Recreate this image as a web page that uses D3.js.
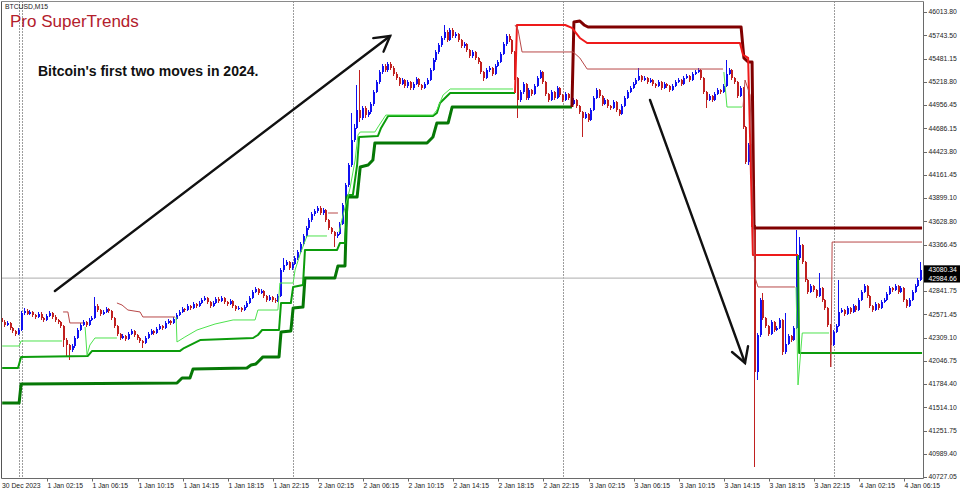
<!DOCTYPE html>
<html><head><meta charset="utf-8">
<script src="https://cdn.jsdelivr.net/npm/d3@7"></script>
<style>html,body{margin:0;padding:0;background:#fff;}svg{display:block;}</style>
</head><body>
<svg id="chart" width="960" height="493"></svg>
<script>
// ---------- DATA (BTCUSD M15) ----------
const open = [42531,42486,42452,42475,42418,42384,42350,42395,42588,42611,
42577,42600,42565,42543,42577,42531,42509,42554,42588,42543,
42509,42486,42440,42281,42224,42168,42213,42304,42395,42452,
42486,42452,42509,42531,42668,42622,42577,42600,42634,42611,
42531,42440,42350,42304,42327,42293,42350,42384,42338,42304,
42270,42247,42304,42350,42384,42361,42406,42440,42418,42475,
42497,42475,42520,42565,42600,42634,42622,42668,42645,42691,
42668,42702,42736,42759,42713,42668,42702,42748,42725,42759,
42713,42691,42725,42668,42634,42645,42622,42656,42702,42759,
42827,42861,42816,42838,42782,42736,42770,42736,42725,42782,
43078,43134,43168,43100,43145,43214,43282,43373,43464,43555,
43646,43714,43748,43782,43725,43759,43646,43555,43509,43464,
43486,43600,43816,44043,44271,44555,44692,44896,44805,44919,
44839,44873,44964,45101,45214,45328,45397,45351,45419,45374,
45306,45260,45192,45237,45169,45214,45146,45192,45249,45181,
45146,45192,45237,45351,45465,45556,45635,45715,45783,45692,
45806,45738,45760,45692,45624,45647,45578,45510,45556,45488,
45442,45328,45260,45351,45374,45306,45397,45442,45533,45647,
45738,45692,45556,45260,45010,45101,45192,45033,45124,45078,
45169,45260,45328,45214,45078,45010,45101,45033,45146,45067,
45010,45078,45033,44964,45010,44942,44873,44805,44851,44783,
44896,45033,45124,45055,44964,45010,44942,44919,44987,44896,
44851,44942,45033,45101,45146,45192,45237,45283,45237,45260,
45214,45237,45192,45169,45214,45146,45192,45169,45124,45169,
45214,45237,45192,45260,45283,45237,45306,45328,45351,45260,
45101,45010,45055,45010,45078,45124,45101,45169,45306,45351,
45260,45214,45055,45146,44703,44305,44498,43589,41917,42338,
42736,42531,42440,42350,42486,42395,42418,42509,42145,42236,
42327,42281,42418,43214,43361,43168,42964,42827,42895,42850,
42782,42873,42736,42645,42452,42224,42372,42440,42600,42622,
42577,42645,42600,42668,42622,42736,42827,42895,42782,42668,
42622,42691,42645,42713,42736,42804,42873,42850,42895,42827,
42873,42736,42668,42736,42827,42895,42964];
const high = [42560,42508,42497,42490,42430,42400,42420,42610,42640,42630,
42625,42615,42580,42600,42595,42545,42577,42610,42600,42560,
42520,42500,42452,42300,42236,42236,42327,42418,42475,42509,
42497,42531,42554,42770,42691,42634,42622,42656,42645,42622,
42543,42452,42361,42350,42338,42372,42406,42395,42350,42315,
42281,42327,42372,42406,42395,42429,42463,42452,42497,42520,
42509,42543,42588,42622,42656,42645,42691,42680,42713,42702,
42725,42759,42782,42770,42725,42725,42770,42770,42782,42770,
42725,42748,42736,42680,42668,42656,42680,42725,42782,42850,
42884,42873,42861,42850,42793,42793,42782,42759,42804,43100,
43214,43191,43180,43168,43237,43305,43396,43486,43578,43669,
43737,43771,43805,43805,43782,43771,43657,43566,43520,43509,
43623,43839,44066,44294,44862,44737,45180,45351,44942,44942,
44896,44987,45124,45237,45351,45420,45420,45442,45442,45397,
45328,45271,45260,45249,45237,45226,45214,45271,45260,45192,
45214,45260,45374,45488,45578,45658,45738,45863,45806,45829,
45829,45783,45772,45703,45669,45658,45590,45578,45567,45499,
45453,45340,45374,45397,45385,45420,45465,45556,45669,45760,
45760,45703,45567,45271,45124,45214,45203,45146,45135,45192,
45283,45351,45340,45226,45090,45124,45112,45169,45158,45078,
45101,45090,45044,45033,45021,44953,44885,44873,44862,44919,
45055,45146,45135,45067,45033,45021,44953,45010,44999,44908,
44964,45055,45124,45169,45214,45260,45374,45294,45283,45271,
45260,45249,45203,45237,45226,45214,45203,45180,45192,45237,
45260,45249,45283,45306,45294,45328,45351,45374,45362,45271,
45112,45078,45067,45101,45146,45135,45192,45465,45374,45362,
45271,45226,45169,45158,44714,44521,44510,43600,42361,42759,
42816,42543,42452,42509,42497,42440,42531,42520,42588,42350,
42338,42440,43532,43453,43373,43180,42975,42918,42907,42861,
43043,42884,42748,42656,42463,42395,42463,42964,42645,42634,
42668,42656,42691,42680,42759,42850,42918,42907,42793,42680,
42713,42702,42736,42759,42827,42895,42884,42918,42907,42895,
42884,42748,42759,42850,42918,42987,43168];
const low = [42463,42430,42440,42395,42361,42330,42338,42384,42570,42560,
42565,42543,42520,42531,42509,42486,42497,42543,42520,42486,
42463,42418,42202,42089,42054,42145,42190,42293,42384,42440,
42429,42440,42497,42520,42600,42554,42565,42588,42588,42509,
42418,42327,42281,42293,42270,42281,42338,42315,42281,42247,
42190,42236,42293,42338,42338,42350,42395,42395,42406,42463,
42452,42463,42509,42554,42588,42600,42611,42622,42634,42645,
42656,42691,42725,42691,42645,42656,42691,42702,42713,42691,
42668,42680,42645,42611,42622,42600,42611,42645,42691,42748,
42816,42793,42804,42759,42713,42725,42713,42702,42713,42770,
43055,43123,43078,43078,43134,43191,43260,43350,43441,43532,
43623,43691,43725,43702,43702,43623,43532,43486,43339,43441,
43475,43589,43805,44020,44248,44532,44680,44760,44783,44805,
44816,44851,44942,45090,45192,45306,45328,45328,45351,45283,
45237,45169,45180,45146,45146,45124,45124,45180,45158,45124,
45135,45180,45226,45340,45442,45533,45612,45692,45669,45680,
45715,45715,45669,45601,45601,45556,45488,45488,45465,45419,
45306,45226,45249,45328,45283,45294,45385,45431,45522,45624,
45669,45533,45237,44805,44987,45078,45010,45010,45055,45067,
45158,45249,45192,45055,44987,44999,45010,45021,45044,44987,
44999,45010,44942,44953,44919,44851,44589,44794,44760,44771,
44885,45021,45033,44942,44953,44919,44896,44908,44873,44828,
44839,44930,45021,45090,45135,45180,45226,45214,45226,45192,
45203,45169,45146,45158,45124,45135,45146,45101,45112,45158,
45203,45169,45180,45249,45214,45226,45294,45317,45237,45078,
44919,44999,44987,44999,45067,45078,45090,45158,45294,45237,
45192,45033,45044,44680,44282,44271,43566,40837,41827,42315,
42509,42418,42327,42338,42372,42384,42406,42111,42122,42224,
42259,42270,42406,43191,43145,42941,42804,42816,42827,42759,
42770,42713,42622,42429,41974,42213,42361,42429,42588,42554,
42565,42577,42588,42600,42611,42725,42816,42759,42645,42600,
42611,42622,42634,42702,42725,42793,42827,42838,42804,42816,
42713,42645,42656,42725,42816,42884,42953];
const close = [42486,42452,42475,42418,42384,42350,42395,42588,42611,42577,
42600,42565,42543,42577,42531,42509,42554,42588,42543,42509,
42486,42440,42281,42224,42168,42213,42304,42395,42452,42486,
42452,42509,42531,42668,42622,42577,42600,42634,42611,42531,
42440,42350,42304,42327,42293,42350,42384,42338,42304,42270,
42247,42304,42350,42384,42361,42406,42440,42418,42475,42497,
42475,42520,42565,42600,42634,42622,42668,42645,42691,42668,
42702,42736,42759,42713,42668,42702,42748,42725,42759,42713,
42691,42725,42668,42634,42645,42622,42656,42702,42759,42827,
42861,42816,42838,42782,42736,42770,42736,42725,42782,43078,
43134,43168,43100,43145,43214,43282,43373,43464,43555,43646,
43714,43748,43782,43725,43759,43646,43555,43509,43464,43486,
43600,43816,44043,44271,44555,44692,44896,44805,44919,44839,
44873,44964,45101,45214,45328,45397,45351,45419,45374,45306,
45260,45192,45237,45169,45214,45146,45192,45249,45181,45146,
45192,45237,45351,45465,45556,45635,45715,45783,45692,45806,
45738,45760,45692,45624,45647,45578,45510,45556,45488,45442,
45328,45260,45351,45374,45306,45397,45442,45533,45647,45738,
45692,45556,45260,45010,45101,45192,45033,45124,45078,45169,
45260,45328,45214,45078,45010,45101,45033,45146,45067,45010,
45078,45033,44964,45010,44942,44873,44805,44851,44783,44896,
45033,45124,45055,44964,45010,44942,44919,44987,44896,44851,
44942,45033,45101,45146,45192,45237,45283,45237,45260,45214,
45237,45192,45169,45214,45146,45192,45169,45124,45169,45214,
45237,45192,45260,45283,45237,45306,45328,45351,45260,45101,
45010,45055,45010,45078,45124,45101,45169,45306,45351,45260,
45214,45055,45146,44703,44305,44498,43589,41917,42338,42736,
42531,42440,42350,42486,42395,42418,42509,42145,42236,42327,
42281,42418,43214,43361,43168,42964,42827,42895,42850,42782,
42873,42736,42645,42452,42224,42372,42440,42600,42622,42577,
42645,42600,42668,42622,42736,42827,42895,42782,42668,42622,
42691,42645,42713,42736,42804,42873,42850,42895,42827,42873,
42736,42668,42736,42827,42895,42964,43080];

// SuperTrend lines: [bar index, price]
const stSlowUp = [[0,41565],[6,41565],[6.7,41781],[62,41792],[63.8,41849],[66.6,41849],[67.7,41952],[86.8,41963],[88.3,41997],[90,42009],[90.7,42031],[92.5,42089],[98.2,42089],[98.9,42372],[102.4,42384],[103.2,42645],[106.7,42656],[107.4,42986],[118,42986],[119.1,43123],[121.6,43123],[122.3,43907],[125.9,43907],[127,44248],[129.8,44271],[131.5,44328],[132.2,44521],[150.7,44521],[152.8,44589],[154.2,44749],[158.2,44749],[159.6,44930],[202.1,44930]];
const stSlowDown = [[202.1,44930],[202.8,45897],[204.9,45908],[206.4,45863],[207.8,45840],[262.1,45840],[263.1,45488],[264.6,45442],[266,45442],[266.7,43555],[326.3,43555]];
const stMidUp1 = [[0,41963],[5.6,41963],[6.7,42089],[30.4,42100],[31.9,42157],[63.1,42157],[64.5,42190],[70.2,42281],[89,42304],[90.7,42338],[92.2,42395],[98.2,42395],[98.9,42702],[102.4,42702],[103.2,42884],[106.7,42907],[107.4,43305],[118.8,43305],[119.8,43384],[121.6,43384],[122.7,43930],[124.4,43930],[125.9,44271],[126.6,44589],[133.3,44601],[134.4,44692],[136.9,44828],[152.8,44828],[154.2,44862],[155.3,44976],[158.9,45090],[181.9,45090]];
const stMidDown = [[181.9,45090],[182.6,45863],[199.7,45863],[202.1,45829],[204.9,45715],[207.5,45658],[261.7,45658],[262.8,45522],[264.6,45488],[266.3,43248],[282.3,43248]];
const stMidUp2 = [[282.3,43248],[282.7,42134],[326.3,42134]];
const stFastUp = [
  [[0,42213],[6,42213],[6.7,42270],[21.2,42270]],
  [[29.4,42429],[30.1,42111],[31.1,42224],[32.9,42304],[40.7,42304]],
  [[61.7,42543],[62,42259],[64.8,42315],[69.1,42395],[75.5,42463],[81.9,42509],[89.7,42509],[90.7,42622],[97.8,42622],[98.5,42929],[103.2,42929],[103.9,43078],[105.6,43248],[108.1,43464],[115.2,43464]],
  [[119.5,43509],[120.9,43702],[122.3,43873],[123.4,44009],[125.2,44328],[126.2,44612],[127,44646],[132.2,44646],[133.3,44703],[136.1,44839],[152.8,44839],[154.2,44896],[156.4,45067],[158.9,45135],[181.2,45135]],
  [[256,45328],[257.1,44930],[262.4,44930]],
  [[281.6,42884],[282.3,41770],[283.8,42361],[293.3,42361]]
];
const stFastDown = [
  [[21.6,42600],[23.3,42600],[24,42475],[28.7,42475]],
  [[40.7,42702],[42.5,42679],[44.6,42622],[48.9,42600],[49.9,42543],[61.3,42543]],
  [[115.6,43725],[119.1,43725]],
  [[181.9,45863],[183,45806],[184.4,45556],[202.5,45556],[204.9,45488],[207.5,45362],[255.7,45362]],
  [[262.8,44930],[263.5,45237],[265.3,45067],[267,42998],[268.1,42884],[281.2,42884]],
  [[294,41974],[294.4,43395],[326.3,43395]]
];

const xTickBars = [0,16,32,48,64,80,96,112,128,144,160,176,192,208,224,240,256,272,288,304,320];
const xTickLabels = ["30 Dec 2023","1 Jan 02:15","1 Jan 06:15","1 Jan 10:15","1 Jan 14:15","1 Jan 18:15","1 Jan 22:15","2 Jan 02:15","2 Jan 06:15","2 Jan 10:15","2 Jan 14:15","2 Jan 18:15","2 Jan 22:15","3 Jan 02:15","3 Jan 06:15","3 Jan 10:15","3 Jan 14:15","3 Jan 18:15","3 Jan 22:15","4 Jan 02:15","4 Jan 06:15"];
const yTickValues = [46013.80,45743.50,45481.15,45218.80,44956.45,44686.15,44423.80,44161.45,43899.10,43628.80,43366.45,42841.75,42571.45,42309.10,42046.75,41784.40,41514.10,41251.75,40989.40,40727.05];
const separatorBars = [6,7,103,199,295];
const bidPrice = 42984.66;
const askPrice = 43080.34;
const arrows = [ {from:[18.7,42838], to:[137.6,45738]}, {from:[229.8,45010], to:[263.5,42020]} ];

// ---------- STYLES ----------
const C = {
  bull:"#1010f0", bear:"#c02020",
  fastUp:"#4ee24e", midUp:"#0c9c0c", slowUp:"#067806",
  fastDown:"#b84848", midDown:"#ee1a1a", slowDown:"#800000",
  frame:"#6a6a6a", text:"#222"
};
const axisFont = "Liberation Sans, Arial, sans-serif";

// ---------- SCALES ----------
const svg = d3.select("#chart");
const L=1.5, R=923.5, T=1.5, B=478.5;
const x = d3.scaleLinear().domain([0,320]).range([2.2,904.3]);
const y = d3.scaleLinear().domain([40727.05,46013.80]).range([476.7,11.7]);

svg.append("rect").attr("width",960).attr("height",493).attr("fill","#fff");
svg.append("defs").append("clipPath").attr("id","clip")
  .append("rect").attr("x",L).attr("y",T).attr("width",R-L).attr("height",B-T);
const g = svg.append("g").attr("clip-path","url(#clip)");

// separators
g.selectAll("line.sep").data(separatorBars).join("line")
  .attr("x1",d=>Math.round(x(d))+0.5).attr("x2",d=>Math.round(x(d))+0.5)
  .attr("y1",T).attr("y2",B).attr("stroke","#3a3a3a").attr("stroke-width",1)
  .attr("stroke-dasharray","1,2");

// bid line
g.append("line").attr("x1",L).attr("x2",R)
  .attr("y1",y(bidPrice)).attr("y2",y(bidPrice))
  .attr("stroke","#bdbdbd").attr("stroke-width",1.4);

// candles
const idx = d3.range(close.length);
const cg = g.append("g").attr("shape-rendering","crispEdges");
cg.selectAll("rect.wick").data(idx).join("rect")
  .attr("x",i=>Math.round(x(i))-1).attr("width",1)
  .attr("y",i=>y(high[i])).attr("height",i=>Math.max(1,y(low[i])-y(high[i])))
  .attr("fill",i=>close[i]>=open[i]?C.bull:C.bear);
cg.selectAll("rect.body").data(idx).join("rect")
  .attr("x",i=>Math.round(x(i))-1).attr("width",2)
  .attr("y",i=>y(Math.max(open[i],close[i])))
  .attr("height",i=>Math.max(1,Math.abs(y(open[i])-y(close[i]))))
  .attr("fill",i=>close[i]>=open[i]?C.bull:C.bear);

// supertrend lines
const line = d3.line().x(d=>x(d[0])).y(d=>y(d[1]));
function drawLine(pts,color,w){
  g.append("path").attr("d",line(pts)).attr("fill","none")
   .attr("stroke",color).attr("stroke-width",w).attr("stroke-linejoin","round");
}
drawLine(stSlowUp,C.slowUp,3);
drawLine(stSlowDown,C.slowDown,3);
drawLine(stMidUp1,C.midUp,2);
drawLine(stMidUp2,C.midUp,2);
drawLine(stMidDown,C.midDown,2);
stFastUp.forEach(s=>drawLine(s,C.fastUp,1));
stFastDown.forEach(s=>drawLine(s,C.fastDown,1));

// arrows
arrows.forEach(a=>{
  const x1=x(a.from[0]), y1=y(a.from[1]), x2=x(a.to[0]), y2=y(a.to[1]);
  const ang=Math.atan2(y1-y2,x1-x2), len=17, spread=Math.PI/6;
  g.append("line").attr("x1",x1).attr("y1",y1).attr("x2",x2).attr("y2",y2)
    .attr("stroke","#111").attr("stroke-width",2.4).attr("stroke-linecap","round");
  const p1=[x2+len*Math.cos(ang+spread), y2+len*Math.sin(ang+spread)];
  const p2=[x2+len*Math.cos(ang-spread), y2+len*Math.sin(ang-spread)];
  g.append("path").attr("d",`M${p1[0]},${p1[1]}L${x2},${y2}L${p2[0]},${p2[1]}`)
    .attr("fill","none").attr("stroke","#111").attr("stroke-width",2.4)
    .attr("stroke-linecap","round").attr("stroke-linejoin","miter");
});

// frame
svg.append("line").attr("x1",L).attr("x2",R).attr("y1",T).attr("y2",T).attr("stroke","#8a8a8a");
svg.append("line").attr("x1",L).attr("x2",L).attr("y1",T).attr("y2",B).attr("stroke","#555");
svg.append("line").attr("x1",R).attr("x2",R).attr("y1",T).attr("y2",B).attr("stroke",C.frame);
svg.append("line").attr("x1",L).attr("x2",R).attr("y1",B).attr("y2",B).attr("stroke",C.frame);

// y axis ticks + labels
const fmt = d3.format(".2f");
const ya = svg.append("g");
ya.selectAll("line").data(yTickValues).join("line")
  .attr("x1",R).attr("x2",R+3.5)
  .attr("y1",d=>Math.round(y(d))+0.5).attr("y2",d=>Math.round(y(d))+0.5)
  .attr("stroke",C.frame);
ya.selectAll("text").data(yTickValues).join("text")
  .attr("x",928.5).attr("y",d=>y(d)).attr("dy","0.35em")
  .attr("font-family",axisFont).attr("font-size",6.8).attr("fill",C.text)
  .text(d=>fmt(d));

// price labels
[askPrice,bidPrice].forEach(p=>{
  svg.append("rect").attr("x",924).attr("y",y(p)-4.4).attr("width",36).attr("height",8.8).attr("fill","#000");
  svg.append("text").attr("x",928.5).attr("y",y(p)).attr("dy","0.35em")
    .attr("font-family",axisFont).attr("font-size",6.8).attr("fill","#fff").text(fmt(p));
});

// x axis ticks + labels
const xa = svg.append("g");
xa.selectAll("line").data(xTickBars.slice(1)).join("line")
  .attr("x1",d=>Math.round(x(d))+0.5).attr("x2",d=>Math.round(x(d))+0.5)
  .attr("y1",B).attr("y2",B+3).attr("stroke",C.frame);
xa.selectAll("text").data(xTickBars).join("text")
  .attr("x",d=>d===0?2:Math.round(x(d))+0.5).attr("y",487.5)
  .attr("font-family",axisFont).attr("font-size",6.8).attr("fill",C.text)
  .text((d,i)=>xTickLabels[i]);

// titles
svg.append("text").attr("x",5).attr("y",9).attr("font-family",axisFont)
  .attr("font-size",6.8).attr("fill",C.text).text("BTCUSD,M15");
svg.append("text").attr("x",10).attr("y",27).attr("font-family",axisFont)
  .attr("font-size",17).attr("fill","#b3202c").text("Pro SuperTrends");
svg.append("text").attr("x",38).attr("y",75.5).attr("font-family",axisFont)
  .attr("font-size",14).attr("font-weight","bold").attr("fill","#111")
  .text("Bitcoin's first two moves in 2024.");
</script>
</body></html>
